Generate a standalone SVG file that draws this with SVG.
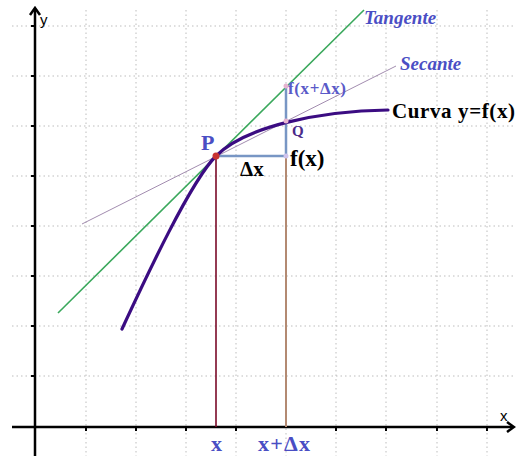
<svg xmlns="http://www.w3.org/2000/svg" width="516" height="456" viewBox="0 0 516 456">
<style>
.grid{stroke:#bdbdbd;stroke-width:1;stroke-dasharray:1.5 3;fill:none}
.axis{stroke:#000;stroke-width:2.5;fill:none}
.tick{stroke:#000;stroke-width:2}
.lbl{font-family:"Liberation Serif","Times New Roman",serif;font-weight:bold}
.blue{fill:#4a4ec4}
.sans{font-family:"Liberation Sans",Arial,sans-serif;font-size:15px;fill:#000}
</style>
<rect width="516" height="456" fill="#fff"/>
<g id="grid">
<path class="grid" d="M86 10V456M136 10V456M186 10V456M236 10V456M286 10V456M336 10V456M386 10V456M437 10V456M487 10V456"/>
<path class="grid" d="M12 26H516M12 76H516M12 126H516M12 176H516M12 226H516M12 276H516M12 326H516M12 376H516"/>
</g>
<g id="axes">
<path class="axis" d="M35 9V456M12 427H513"/>
<path class="axis" d="M30 15L35 8L40 15M507 422L514 427L507 432" stroke-linejoin="miter"/>
<path class="tick" d="M31 26H35M31 76H35M31 126H35M31 176H35M31 226H35M31 276H35M31 326H35M31 376H35"/>
<path class="tick" d="M86 427V431M136 427V431M186 427V431M236 427V431M336 427V431M386 427V431M437 427V431M487 427V431"/>
<text class="sans" x="40" y="25">y</text>
<text class="sans" x="500" y="421">x</text>
</g>
<g id="connectors">
<line id="secante-line" x1="82" y1="224" x2="396" y2="66" stroke="#8a6f9a" stroke-width="0.8"/>
<line id="tangente-line" x1="58" y1="313" x2="364" y2="10" stroke="#3aa85c" stroke-width="1.6"/>
<line id="x-line" x1="216" y1="156" x2="216" y2="427" stroke="#7a0a28" stroke-width="1.6"/>
<line id="xdx-line" x1="286" y1="156" x2="286" y2="427" stroke="#b38a72" stroke-width="2"/>
<path id="delta" d="M216 156H286V86" fill="none" stroke="#7896c4" stroke-width="2.5"/>
</g>
<g id="curve">
<path d="M122 329C147 275 191 181 216 156C246 126 320 111 388 110" fill="none" stroke="#3b0c82" stroke-width="3.2" stroke-linecap="round"/>
</g>
<g id="points">
<circle cx="216" cy="156" r="3.5" fill="#c83232"/>
<circle cx="286" cy="156" r="2.5" fill="#cfc3ec"/>
<circle cx="286" cy="121" r="2.5" fill="#e6b4d0"/>
<circle cx="286" cy="86" r="2.5" fill="#e6b4d0"/>
</g>
<g id="labels">
<text class="lbl blue" x="201" y="150" font-size="22">P</text>
<text class="lbl" x="240" y="176" font-size="21" fill="#000">Δx</text>
<text class="lbl" x="290" y="166" font-size="23" fill="#000">f(x)</text>
<text class="lbl" x="292" y="136" font-size="15" fill="#4a2a8a">Q</text>
<text class="lbl" x="288" y="94" font-size="17" fill="#5a5ac8" textLength="58">f(x+Δx)</text>
<text class="lbl" x="392" y="118" font-size="21" fill="#000" textLength="123">Curva y=f(x)</text>
<text class="lbl blue" x="364" y="24" font-size="19" font-style="italic">Tangente</text>
<text class="lbl blue" x="400" y="70" font-size="19" font-style="italic">Secante</text>
<text class="lbl blue" x="211" y="451" font-size="22">x</text>
<text class="lbl blue" x="258" y="451" font-size="22" textLength="52">x+Δx</text>
</g>
</svg>
